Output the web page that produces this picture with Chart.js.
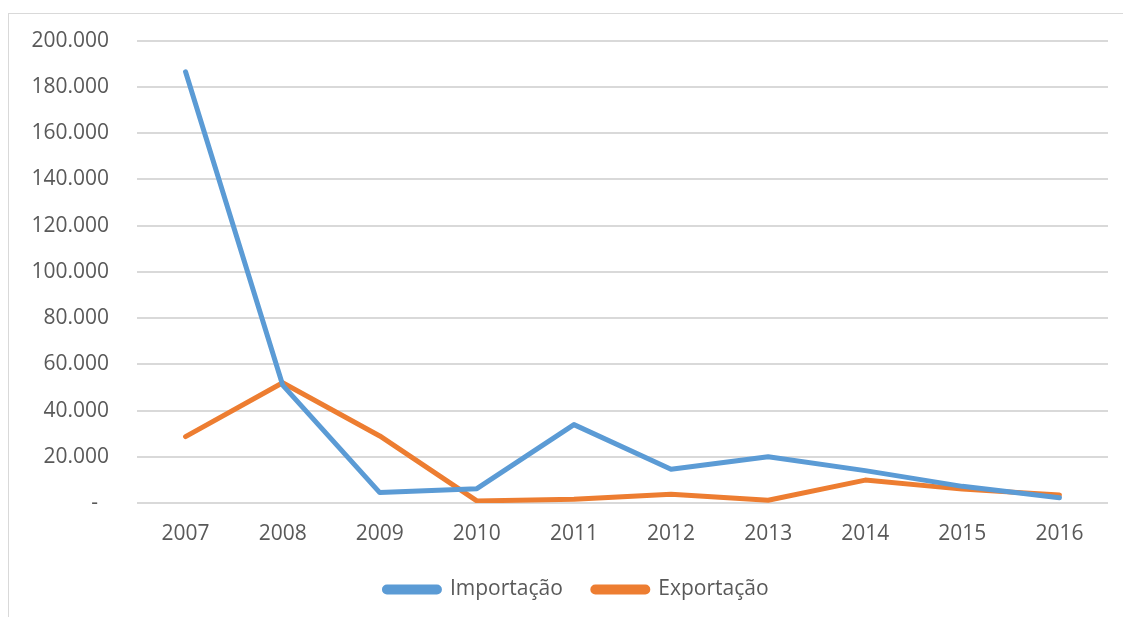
<!DOCTYPE html>
<html>
<head>
<meta charset="utf-8">
<script src="https://cdn.jsdelivr.net/npm/chart.js@4.4.0/dist/chart.umd.min.js"></script>
<style>
html,body{margin:0;padding:0;background:#fff;}
#wrap{width:1123px;height:617px;position:relative;}
</style>
</head>
<body>
<div id="wrap"><canvas id="c" width="1123" height="617"></canvas></div>
<script>
const years = ['2007','2008','2009','2010','2011','2012','2013','2014','2015','2016'];
const importacao = [186500, 51000, 4500, 6200, 33900, 14600, 20000, 14000, 7200, 2300];
const exportacao = [28700, 52000, 29000, 900, 1600, 3800, 1200, 9900, 6000, 3500];
const seriesNames = ['Importação', 'Exportação'];

const FONT = "'Open Sans', sans-serif";
const TEXT = '#595959';

function fmt(v){
  if (v === 0) return '-  ';
  return String(v).replace(/\B(?=(\d{3})+(?!\d))/g, '.');
}

const borderPlugin = {
  id: 'outerBorder',
  beforeDraw(chart){
    const ctx = chart.ctx;
    ctx.save();
    ctx.strokeStyle = '#d9d9d9';
    ctx.lineWidth = 1;
    ctx.strokeRect(8.5, 13.5, chart.width + 20, chart.height + 20);
    ctx.restore();
  }
};

const legendShift = {
  id: 'legendShift',
  afterLayout(chart){
    if (chart.legend) { chart.legend.left += 15; chart.legend.right += 15; }
  }
};

new Chart(document.getElementById('c'), {
  type: 'line',
  data: {
    labels: years,
    datasets: [
      { label: seriesNames[0], data: importacao, borderColor: '#5B9BD5', backgroundColor: '#5B9BD5',
        borderWidth: 5, pointRadius: 0, tension: 0, borderCapStyle: 'round', borderJoinStyle: 'round' },
      { label: seriesNames[1], data: exportacao, borderColor: '#ED7D31', backgroundColor: '#ED7D31',
        borderWidth: 5, pointRadius: 0, tension: 0, borderCapStyle: 'round', borderJoinStyle: 'round' }
    ]
  },
  options: {
    responsive: false,
    animation: false,
    layout: { padding: { left: 15, right: 15, top: 34, bottom: 7 } },
    plugins: {
      tooltip: { enabled: false },
      legend: {
        position: 'bottom',
        labels: {
          boxWidth: 55, boxHeight: 5, useBorderRadius: true, borderRadius: 2.5,
          color: TEXT, font: { family: FONT, size: 21 }, padding: 30
        }
      }
    },
    scales: {
      x: {
        offset: true,
        afterFit(scale){ scale.height = 46; },
        grid: { display: false, drawTicks: false },
        border: { display: false },
        ticks: { color: TEXT, font: { family: FONT, size: 21 }, padding: 18, maxRotation: 0 }
      },
      y: {
        min: 0, max: 200000,
        afterFit(scale){ scale.width = 122; },
        grid: { color: '#d9d9d9', lineWidth: 2, drawTicks: false },
        border: { display: false },
        ticks: { stepSize: 20000, color: TEXT, font: { family: FONT, size: 21 }, padding: 28, callback: fmt }
      }
    }
  },
  plugins: [borderPlugin, legendShift]
});
</script>
</body>
</html>
